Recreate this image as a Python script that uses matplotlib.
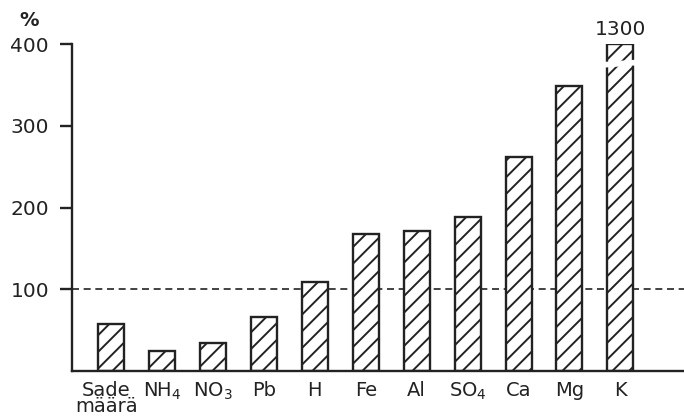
import matplotlib.pyplot as plt
from matplotlib.patches import Polygon

plt.rcParams['font.family'] = ['DejaVu Sans']
plt.rcParams['mathtext.fontset'] = 'dejavusans'
plt.rcParams['hatch.linewidth'] = 1.4

# data (percent)
labels = ['Sade\nmäärä', r'NH$_\mathregular{4}$', r'NO$_\mathregular{3}$', 'Pb', 'H',
          'Fe', 'Al', r'SO$_\mathregular{4}$', 'Ca', 'Mg', 'K']
values = [57, 24, 34, 66, 109, 168, 171, 188, 262, 349, 400]
k_real = 1300
y_ticks = [100, 200, 300, 400]

fig = plt.figure(figsize=(6.84, 4.18), dpi=100)
ax = fig.add_axes([72 / 684, 47 / 418, 1 - 72 / 684, 327 / 418])

x = list(range(len(labels)))
ax.bar(x, values, width=0.51, color='white', edgecolor='#222222',
       linewidth=1.7, hatch='//', zorder=2)

# break in the K bar
k = len(labels) - 1
gap = Polygon([[k - 0.35, 371], [k + 0.35, 374], [k + 0.35, 381], [k - 0.35, 378]],
              closed=True, facecolor='white', edgecolor='none', zorder=3)
ax.add_patch(gap)
ax.text(k, 406, str(k_real), ha='center', va='bottom', fontsize=14.5,
        color='#222222', clip_on=False)

# reference line at 100 %
ax.axhline(100, color='#222222', linewidth=1.2, linestyle=(0, (4.2, 2.8)), zorder=1)

ax.set_xlim(-0.77, 11.25)
ax.set_ylim(0, 400)
ax.set_yticks(y_ticks)
ax.set_yticklabels([str(v) for v in y_ticks])
# two-line label sits a little left of its bar in the original (ticks are hidden)
tick_pos = [x[0] - 0.1] + x[1:]
ax.set_xticks(tick_pos)
ax.set_xticklabels(labels, linespacing=0.85, va='top')

for s in ['top', 'right']:
    ax.spines[s].set_visible(False)
for s in ['left', 'bottom']:
    ax.spines[s].set_linewidth(1.7)
    ax.spines[s].set_color('#222222')

ax.tick_params(axis='y', length=8.5, width=1.7, pad=8, labelsize=14.5,
               colors='#222222', direction='out')
ax.tick_params(axis='x', length=0, pad=7, labelsize=14, colors='#222222')

fig.text(29 / 684, 1 - 20 / 418, '%', ha='center', va='center', fontsize=14,
         fontweight='bold', color='#222222')

fig.savefig('out.png', dpi=100)
